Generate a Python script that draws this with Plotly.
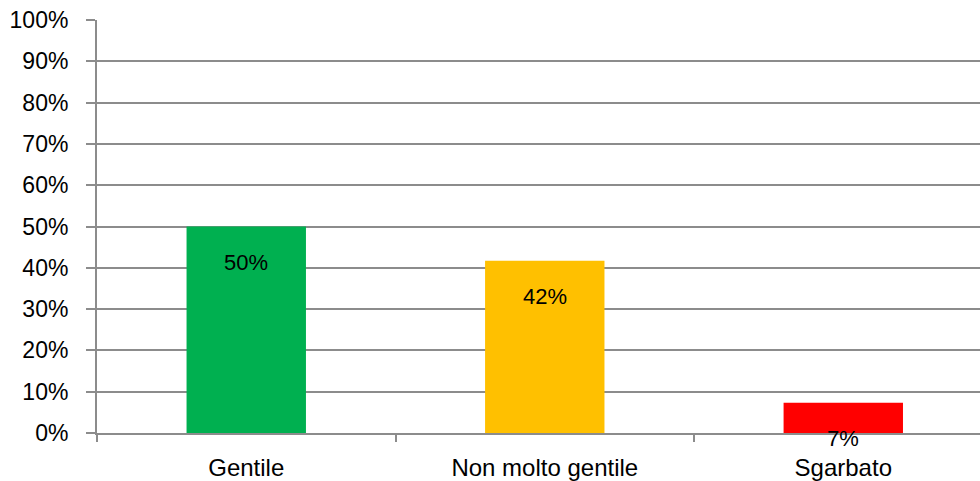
import plotly.graph_objects as go

categories = ["Gentile", "Non molto gentile", "Sgarbato"]
values = [0.50, 0.417, 0.073]
labels = ["50%", "42%", "7%"]
colors = ["#00B050", "#FFC000", "#FF0000"]
y_ticks = [i / 10 for i in range(11)]
y_tick_labels = [f"{i * 10}%" for i in range(11)]

FONT = "Liberation Sans, Arial, sans-serif"
GRID = "#8C8C8C"

fig = go.Figure()
fig.add_trace(go.Bar(
    x=categories,
    y=values,
    marker=dict(color=colors, line=dict(width=0)),
    width=0.4,
    hoverinfo="skip",
))

for c, v, t in zip(categories, values, labels):
    fig.add_annotation(
        x=c, y=v, xref="x", yref="y", text=t, showarrow=False,
        yanchor="middle", yshift=-36,
        font=dict(family=FONT, size=22, color="#000000"),
    )

fig.update_layout(
    width=980, height=481,
    margin=dict(l=97, r=0, t=20, b=48),
    paper_bgcolor="white", plot_bgcolor="white",
    showlegend=False,
    font=dict(family=FONT, size=22, color="#000000"),
    xaxis=dict(
        range=[-0.5, 2.458],
        automargin=False,
        showline=True, linecolor=GRID, linewidth=2,
        ticks="outside", tickson="boundaries", ticklen=7, tickcolor=GRID, tickwidth=2,
        showgrid=False,
        tickfont=dict(family=FONT, size=24, color="#000000"),
        ticklabelstandoff=12,
    ),
    yaxis=dict(
        range=[0, 1],
        automargin=False,
        tickvals=y_ticks, ticktext=y_tick_labels,
        showline=True, linecolor=GRID, linewidth=2,
        ticks="outside", ticklen=9, tickcolor=GRID, tickwidth=2,
        showgrid=True, gridcolor=GRID, gridwidth=2,
        zeroline=False,
        ticklabeloverflow="allow",
        tickfont=dict(family=FONT, size=23, color="#000000"),
        ticklabelstandoff=13,
    ),
)

fig.write_html(
    "out.html",
    config={"displayModeBar": False, "staticPlot": True},
    post_script="document.body.style.margin='0';",
)
